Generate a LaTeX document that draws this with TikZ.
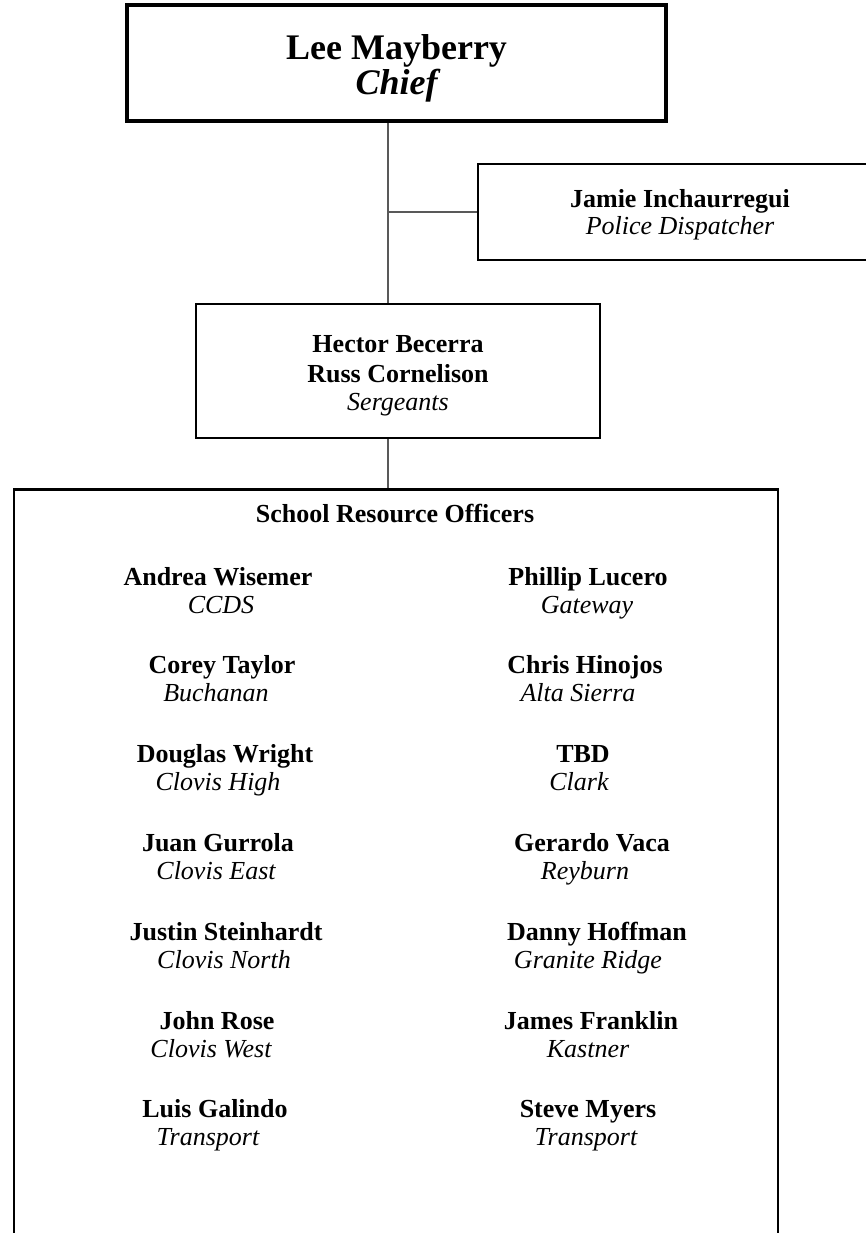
\documentclass[tikz,border=0pt]{standalone}
\usepackage{fontspec}
\setmainfont{Liberation Serif}
\usepackage{tikz}

\begin{document}
\begin{tikzpicture}[x=1pt,y=-1pt,
    chiefbox/.style={draw, line width=3.8pt, minimum width=539pt, minimum height=116pt, inner sep=0pt},
    box/.style={draw, line width=2.5pt, inner sep=0pt},
    link/.style={draw=black!65, line width=1.5pt},
    big/.style={font=\fontsize{36}{36}\selectfont\bfseries, inner sep=0pt, anchor=base},
    who/.style={font=\fontsize{26}{28}\selectfont\bfseries, inner sep=0pt, anchor=base},
    what/.style={font=\fontsize{26}{28}\selectfont\itshape, inner sep=0pt, anchor=base}]

	\useasboundingbox (0,0) rectangle (865,1233);

	\node[chiefbox] (chief) at (396.5,63) {};
	\node[big] (chiefname) at (396.5,60) {Lee Mayberry};
	\node[big, font=\fontsize{36}{36}\selectfont\bfseries\itshape] (chieftitle) at (396.5,95) {Chief};

	\node[box, minimum width=402pt, minimum height=96pt] (disp) at (679,212) {};
	\node[who] (dispname) at (680,208) {Jamie Inchaurregui};
	\node[what] (disptitle) at (680,235) {Police Dispatcher};

	\node[box, minimum width=404pt, minimum height=134pt] (sgt) at (398,371) {};
	\node[who] (sgt1) at (398,352) {Hector Becerra};
	\node[who] (sgt2) at (398,382) {Russ Cornelison};
	\node[what] (sgttitle) at (398,410) {Sergeants};

	\node[box, minimum width=764pt, minimum height=800pt, anchor=north] (sro) at (396,488) {};
	\node[who] (srotitle) at (395,522) {School Resource Officers};

	\coordinate (spine) at (388,0);
	\draw[link] (chief.south -| spine) -- (sgt.north -| spine);
	\draw[link] (spine |- disp.west) -- (disp.west);
	\draw[link] (sgt.south -| spine) -- (sro.north -| spine);

	\foreach \nm/\pl/\a/\b [count=\i] in {Andrea Wisemer/CCDS/218/221, Corey Taylor/Buchanan/222/216,
		Douglas Wright/Clovis High/225/218, Juan Gurrola/Clovis East/218/216,
		Justin Steinhardt/Clovis North/226/224, John Rose/Clovis West/217/211,
		Luis Galindo/Transport/215/208}{
		\node[who] (left\i) at (\a,{585+88.8*(\i-1)}) {\nm};
		\node[what] (leftschool\i) at (\b,{613+88.8*(\i-1)}) {\pl};
	}

	\foreach \nm/\pl/\a/\b [count=\i] in {Phillip Lucero/Gateway/588/587, Chris Hinojos/Alta Sierra/585/578,
		TBD/Clark/583/579, Gerardo Vaca/Reyburn/592/585, Danny Hoffman/Granite Ridge/597/588,
		James Franklin/Kastner/591/588, Steve Myers/Transport/588/586}{
		\node[who] (right\i) at (\a,{585+88.8*(\i-1)}) {\nm};
		\node[what] (rightschool\i) at (\b,{613+88.8*(\i-1)}) {\pl};
	}

\end{tikzpicture}
\end{document}
